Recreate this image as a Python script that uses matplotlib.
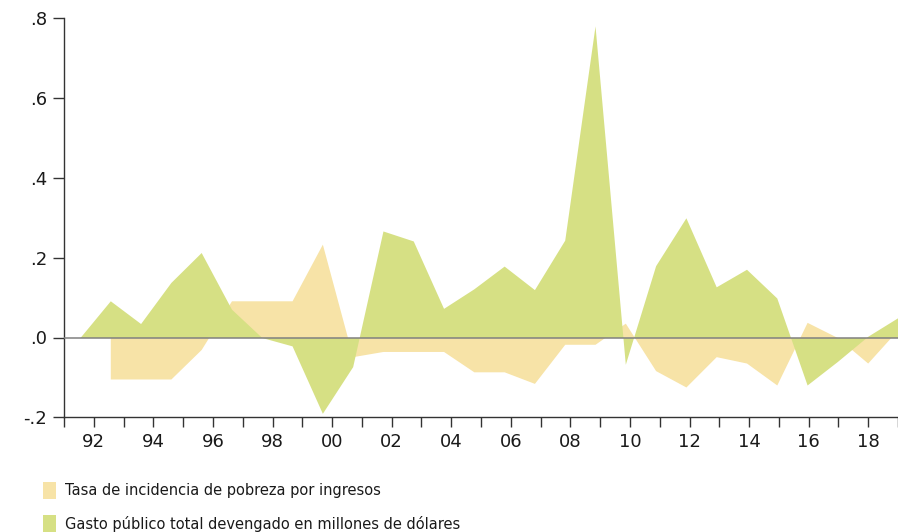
import matplotlib
matplotlib.use("Agg")                                                        # sem tela, só salva o arquivo
import matplotlib.pyplot as plt                                              # biblioteca de gráficos
from matplotlib.patches import Rectangle                                     # quadradinhos da legenda

nan = float("nan")

# dados (variação anual)
anos = list(range(1991, 2019))                                               # observações anuais
pobreza = [nan, -0.104, -0.104, -0.104, -0.030, 0.092, 0.092, 0.092, 0.234, -0.048,
           -0.035, -0.035, -0.035, -0.086, -0.086, -0.115, -0.017, -0.017, 0.036, -0.083,
           -0.124, -0.048, -0.064, -0.119, 0.038, 0.000, -0.064, 0.020]
gasto = [0.000, 0.092, 0.035, 0.138, 0.213, 0.071, 0.000, -0.021, -0.190, -0.073,
         0.267, 0.242, 0.073, 0.122, 0.179, 0.120, 0.244, 0.781, -0.067, 0.180,
         0.300, 0.127, 0.171, 0.099, -0.119, -0.060, 0.003, 0.050]

anos_eixo = list(range(1991, 2020))                                          # marcas do eixo x
rotulos_x = [f"{a % 100:02d}" if a % 2 == 0 else "" for a in anos_eixo]      # só anos pares
valores_y = [-0.2, 0.0, 0.2, 0.4, 0.6, 0.8]
rotulos_y = ["-.2", ".0", ".2", ".4", ".6", ".8"]

nomes = ["Tasa de incidencia de pobreza por ingresos",
         "Gasto público total devengado en millones de dólares"]

cor_pobreza = "#F7E3A7"
cor_gasto = "#D6E084"

# no original as observações ficam um pouco mais espaçadas que as marcas do eixo
PX_OBS = 30.3                                                                # px por observação
PX_EIXO = 29.79                                                              # px por marca do eixo
MARGEM = 16                                                                  # px antes da 1a observação
LARGURA_EIXO = 834                                                           # px da área do gráfico


def pos_marca(ano, x0):                                                      # posição de uma marca em unidades de observação
    return x0 + (ano - anos_eixo[0]) * PX_EIXO / PX_OBS


def gerar_grafico():
    fig = plt.figure(figsize=(8.98, 5.32), dpi=100)
    ax = fig.add_axes([64 / 898, 114.7 / 532, 834 / 898, 399 / 532])

    ax.fill_between(anos, 0, pobreza, color=cor_pobreza, lw=0, zorder=2)     # área da pobreza
    ax.fill_between(anos, 0, gasto, color=cor_gasto, lw=0, zorder=3)         # área do gasto por cima
    ax.axhline(0, color="#808080", lw=1.1, zorder=4)                         # linha do zero

    x0 = anos[0] - MARGEM / PX_OBS
    ax.set_xlim(x0, x0 + LARGURA_EIXO / PX_OBS)
    ax.set_ylim(-0.2, 0.8)

    ax.set_xticks([pos_marca(a, x0) for a in anos_eixo])
    ax.set_xticklabels(rotulos_x, fontsize=13, color="#1a1a1a")
    ax.set_yticks(valores_y)
    ax.set_yticklabels(rotulos_y, fontsize=13, color="#1a1a1a")

    ax.tick_params(axis="x", direction="out", length=7.5, width=1, color="#333333", pad=4)
    ax.tick_params(axis="y", direction="out", length=8, width=1, color="#333333", pad=4)

    for lado in ["top", "right"]:
        ax.spines[lado].set_visible(False)
    for lado in ["left", "bottom"]:
        ax.spines[lado].set_color("#333333")
        ax.spines[lado].set_linewidth(1)

    # legenda embaixo, feita à mão
    cores = [cor_pobreza, cor_gasto]
    for i, (nome, cor) in enumerate(zip(nomes, cores)):
        topo = 482 + i * 33                                                  # px a partir do alto
        fig.patches.append(Rectangle((43 / 898, 1 - (topo + 17) / 532), 13 / 898, 17 / 532,
                                     transform=fig.transFigure, color=cor, lw=0))
        fig.text(65 / 898, 1 - (topo + 9) / 532, nome, fontsize=10.5,
                 color="#1a1a1a", va="center", ha="left")

    fig.savefig("out.png", dpi=100)


gerar_grafico()
